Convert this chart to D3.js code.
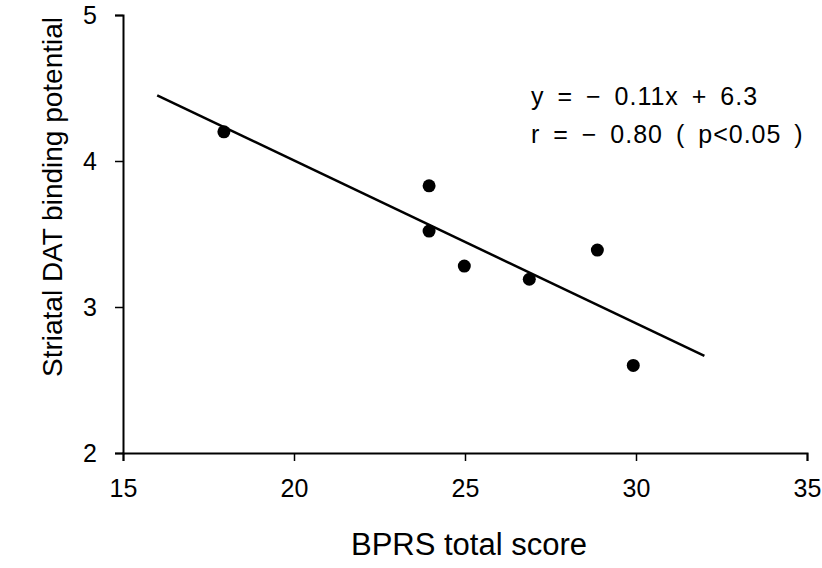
<!DOCTYPE html>
<html>
<head>
<meta charset="utf-8">
<script src="https://cdn.jsdelivr.net/npm/d3@7"></script>
<style>
  body { margin: 0; background: #fff; }
  text { font-family: "Liberation Sans", Arial, sans-serif; fill: #000; }
</style>
</head>
<body>
<div id="chart"></div>
<script>
// BPRS total score vs striatal DAT binding potential
var bprs = [17.95, 23.95, 23.95, 24.98, 26.88, 28.87, 29.92];
var datBP = [4.20, 3.83, 3.52, 3.28, 3.19, 3.39, 2.60];
var fitX = [16, 32];
var fitY = [4.45, 2.665];
var xTicks = [15, 20, 25, 30, 35];
var yTicks = [2, 3, 4, 5];
var eqLines = ["y = \u2212 0.11x + 6.3", "r = \u2212 0.80 ( p<0.05 )"];

var width = 822, height = 568;
var margin = {top: 15, right: 15, bottom: 115, left: 123};

var svg = d3.select("#chart").append("svg")
    .attr("width", width)
    .attr("height", height);

var x = d3.scaleLinear().domain([15, 35]).range([margin.left, 807]);
var y = d3.scaleLinear().domain([2, 5]).range([453, margin.top]);

var xAxis = svg.append("g")
    .attr("transform", "translate(0," + y(2) + ")")
    .call(d3.axisBottom(x).tickValues(xTicks).tickFormat(d3.format("d"))
        .tickSize(8).tickPadding(18));

var yAxis = svg.append("g")
    .attr("transform", "translate(" + x(15) + ",0)")
    .call(d3.axisLeft(y).tickValues(yTicks).tickFormat(d3.format("d"))
        .tickSize(8).tickPadding(18));

[xAxis, yAxis].forEach(function (g) {
    g.attr("font-size", null).attr("font-family", null);
    g.select(".domain").attr("stroke", "#000").attr("stroke-width", 2);
    g.selectAll(".tick line").attr("stroke", "#000").attr("stroke-width", 1.5);
    g.selectAll(".tick text")
        .style("font-size", "25px")
        .attr("fill", "#000");
});

// regression line
var fit = fitX.map(function (v, i) { return [v, fitY[i]]; });
svg.append("path")
    .datum(fit)
    .attr("fill", "none")
    .attr("stroke", "#000")
    .attr("stroke-width", 2.5)
    .attr("d", d3.line()
        .x(function (d) { return x(d[0]); })
        .y(function (d) { return y(d[1]); }));

// points
svg.selectAll(".dot")
    .data(bprs.map(function (v, i) { return [v, datBP[i]]; }))
    .enter()
    .append("circle")
    .attr("class", "dot")
    .attr("cx", function (d) { return x(d[0]); })
    .attr("cy", function (d) { return y(d[1]); })
    .attr("r", 6.5)
    .attr("fill", "#000");

// equation text
svg.selectAll(".eq")
    .data(eqLines)
    .enter()
    .append("text")
    .attr("class", "eq")
    .attr("x", 531)
    .attr("y", function (d, i) { return 105 + i * 38; })
    .style("font-size", "25px")
    .style("word-spacing", "5px")
    .style("letter-spacing", "1px")
    .text(function (d) { return d; });

// axis titles
svg.append("text")
    .attr("x", 469)
    .attr("y", 555)
    .attr("text-anchor", "middle")
    .style("font-size", "31px")
    .text("BPRS total score");

svg.append("text")
    .attr("transform", "translate(62,197) rotate(-90)")
    .attr("text-anchor", "middle")
    .style("font-size", "28px")
    .text("Striatal DAT binding potential");
</script>
</body>
</html>
